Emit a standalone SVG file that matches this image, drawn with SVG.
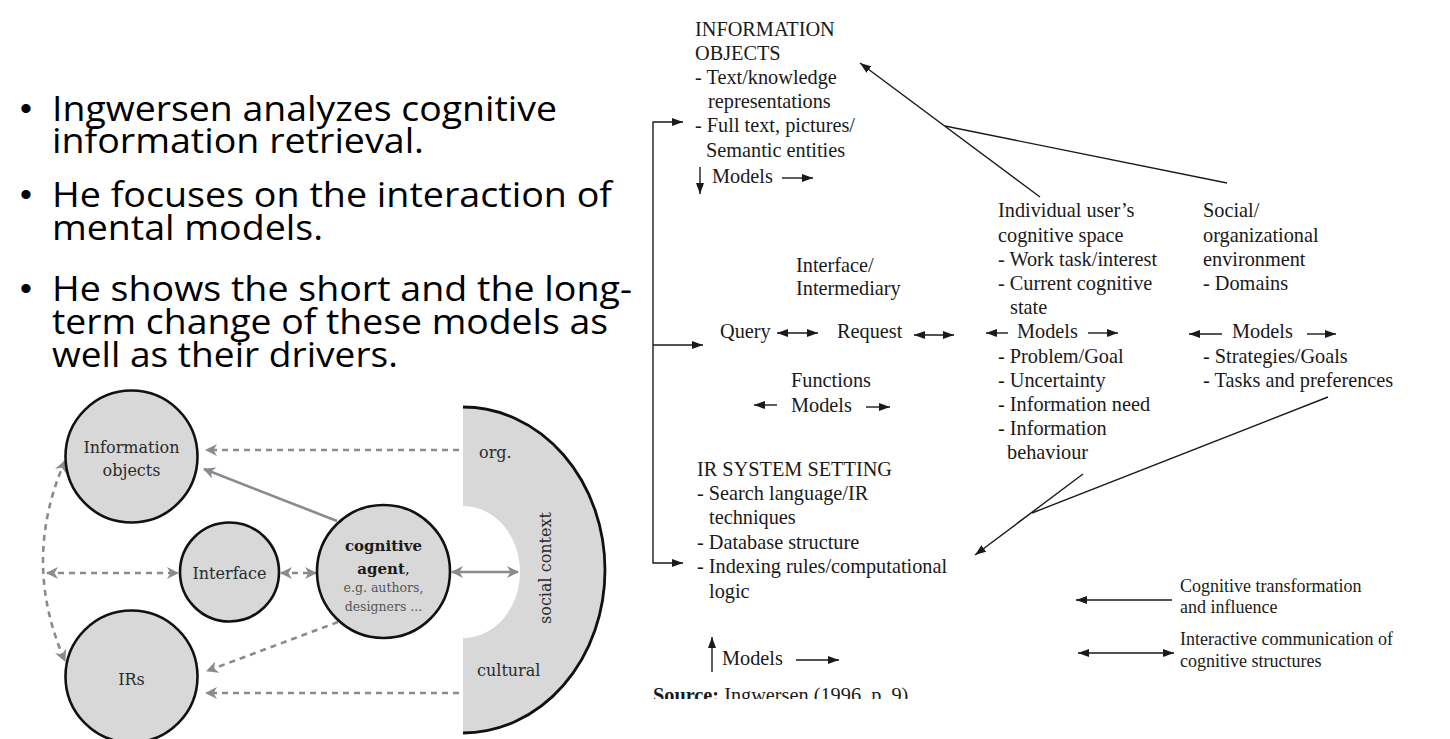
<svg xmlns="http://www.w3.org/2000/svg" width="1450" height="739" viewBox="0 0 1450 739">
  <defs>
    <style>
      .bul { font-family: "Open Sans", "Liberation Sans", sans-serif; font-size: 34px; fill: #000; }
      .dot { font-family: "Liberation Sans", Arial, sans-serif; font-size: 34px; fill: #000; }
      .tr { font-family: "Liberation Serif", "Times New Roman", serif; font-size: 20.3px; fill: #1a1a1a; }
      .lg { font-family: "Liberation Serif", "Times New Roman", serif; font-size: 18px; fill: #1a1a1a; }
      .ln { fill: none; stroke: #1a1a1a; stroke-width: 1.4; }
      .node { fill: #d8d8d8; stroke: #111; stroke-width: 2.6; }
      .lbl { font-family: "DejaVu Serif", "Liberation Serif", serif; font-size: 16px; fill: #2a2a2a; text-anchor: middle; }
      .lblb { font-family: "DejaVu Serif", "Liberation Serif", serif; font-size: 15px; font-weight: bold; fill: #1a1a1a; text-anchor: middle; }
      .lbls { font-family: "DejaVu Serif", "Liberation Serif", serif; font-size: 12.5px; fill: #555; text-anchor: middle; }
      .ctx { font-family: "DejaVu Serif", "Liberation Serif", serif; font-size: 16px; fill: #2a2a2a; }
      .dash { fill: none; stroke: #8a8a90; stroke-width: 2.6; stroke-dasharray: 6 5; }
      .solid { fill: none; stroke: #8a8a90; stroke-width: 2.6; }
    </style>
    <marker id="ah" viewBox="0 0 11 8" refX="11" refY="4" markerWidth="11" markerHeight="8" markerUnits="userSpaceOnUse" orient="auto-start-reverse">
      <path d="M0,0 L11,4 L0,8 z" fill="#1a1a1a"/>
    </marker>
    <marker id="gh" viewBox="0 0 12 12" refX="11" refY="6" markerWidth="12" markerHeight="12" markerUnits="userSpaceOnUse" orient="auto-start-reverse">
      <path d="M0,0 L12,6 L0,12 L3.5,6 z" fill="#8a8a90"/>
    </marker>
    <clipPath id="pageclip">
      <rect x="0" y="0" width="1450" height="699"/>
    </clipPath>
  </defs>

  <rect x="0" y="0" width="1450" height="739" fill="#ffffff"/>

  <!-- bullet list -->
  <g id="bullets">
    <text class="dot" x="20" y="120">•</text>
    <text class="bul" x="52" y="121" textLength="505" lengthAdjust="spacingAndGlyphs">Ingwersen analyzes cognitive</text>
    <text class="bul" x="52" y="153" textLength="372" lengthAdjust="spacingAndGlyphs">information retrieval.</text>
    <text class="dot" x="20" y="206">•</text>
    <text class="bul" x="52" y="207" textLength="560" lengthAdjust="spacingAndGlyphs">He focuses on the interaction of</text>
    <text class="bul" x="52" y="240" textLength="271" lengthAdjust="spacingAndGlyphs">mental models.</text>
    <text class="dot" x="20" y="300">•</text>
    <text class="bul" x="52" y="301" textLength="580" lengthAdjust="spacingAndGlyphs">He shows the short and the long-</text>
    <text class="bul" x="52" y="334" textLength="556" lengthAdjust="spacingAndGlyphs">term change of these models as</text>
    <text class="bul" x="52" y="367" textLength="346" lengthAdjust="spacingAndGlyphs">well as their drivers.</text>
  </g>

  <!-- social context half-disc -->
  <g id="social-context">
    <path d="M463,407 A142,163 0 0 1 463,733 L463,638 A57,66 0 0 0 463,506 Z" fill="#d8d8d8"/>
    <path d="M463,407 A142,163 0 0 1 463,733" fill="none" stroke="#111" stroke-width="2.8"/>
    <text class="ctx" x="479" y="458">org.</text>
    <text class="ctx" x="477" y="676">cultural</text>
    <text class="ctx" x="0" y="0" transform="translate(551,568) rotate(-90)" text-anchor="middle">social context</text>
  </g>

  <!-- connectors of the left model -->
  <g id="model-connectors">
    <line class="dash" x1="459" y1="450" x2="206" y2="450" marker-end="url(#gh)"/>
    <line class="dash" x1="459" y1="693" x2="206" y2="693" marker-end="url(#gh)"/>
    <line class="solid" x1="337" y1="521" x2="204" y2="469" marker-end="url(#gh)"/>
    <line class="dash" x1="338" y1="622" x2="207" y2="671" marker-end="url(#gh)"/>
    <line class="dash" x1="47" y1="573" x2="178" y2="573" marker-start="url(#gh)" marker-end="url(#gh)"/>
    <line class="dash" x1="281" y1="573" x2="316" y2="573" marker-start="url(#gh)" marker-end="url(#gh)"/>
    <line class="solid" x1="452" y1="572" x2="518" y2="572" marker-start="url(#gh)" marker-end="url(#gh)"/>
    <path class="dash" d="M65,461 Q21,561 65,661" marker-start="url(#gh)" marker-end="url(#gh)"/>
  </g>

  <g id="information-objects">
    <circle class="node" cx="131.5" cy="456.5" r="66"/>
    <text class="lbl" x="131.5" y="452.5">Information</text>
    <text class="lbl" x="131.5" y="476">objects</text>
  </g>
  <g id="interface">
    <circle class="node" cx="229.5" cy="572" r="49.5"/>
    <text class="lbl" x="229.5" y="579">Interface</text>
  </g>
  <g id="irs">
    <circle class="node" cx="131.5" cy="676.5" r="66"/>
    <text class="lbl" x="131.5" y="685">IRs</text>
  </g>
  <g id="cognitive-agent">
    <circle class="node" cx="383.5" cy="571.5" r="66.5"/>
    <text class="lblb" x="383.5" y="551">cognitive</text>
    <text class="lblb" x="383.5" y="574">agent<tspan font-weight="normal">,</tspan></text>
    <text class="lbls" x="383.5" y="592">e.g. authors,</text>
    <text class="lbls" x="383.5" y="611">designers ...</text>
  </g>

  <!-- cognitive framework: text blocks -->
  <g id="information-objects-block" class="tr">
    <text x="695" y="36">INFORMATION</text>
    <text x="695" y="60">OBJECTS</text>
    <text x="695" y="84">- Text/knowledge</text>
    <text x="708" y="108">representations</text>
    <text x="695" y="132">- Full text, pictures/</text>
    <text x="706" y="157">Semantic entities</text>
    <text x="712" y="183">Models</text>
  </g>
  <g id="interface-block" class="tr">
    <text x="796" y="272">Interface/</text>
    <text x="796" y="295">Intermediary</text>
    <text x="720" y="338">Query</text>
    <text x="837" y="338">Request</text>
    <text x="791" y="387">Functions</text>
    <text x="791" y="412">Models</text>
  </g>
  <g id="user-block" class="tr">
    <text x="998" y="217">Individual user’s</text>
    <text x="998" y="242">cognitive space</text>
    <text x="998" y="266">- Work task/interest</text>
    <text x="998" y="290">- Current cognitive</text>
    <text x="1010" y="314">state</text>
    <text x="1017" y="338">Models</text>
    <text x="998" y="363">- Problem/Goal</text>
    <text x="998" y="387">- Uncertainty</text>
    <text x="998" y="411">- Information need</text>
    <text x="998" y="435">- Information</text>
    <text x="1007" y="459">behaviour</text>
  </g>
  <g id="social-block" class="tr">
    <text x="1203" y="217">Social/</text>
    <text x="1203" y="242">organizational</text>
    <text x="1203" y="266">environment</text>
    <text x="1203" y="290">- Domains</text>
    <text x="1232" y="338">Models</text>
    <text x="1203" y="363">- Strategies/Goals</text>
    <text x="1203" y="387">- Tasks and preferences</text>
  </g>
  <g id="ir-system-block" class="tr">
    <text x="697" y="476">IR SYSTEM SETTING</text>
    <text x="697" y="500">- Search language/IR</text>
    <text x="709" y="524">techniques</text>
    <text x="697" y="549">- Database structure</text>
    <text x="697" y="573">- Indexing rules/computational</text>
    <text x="709" y="598">logic</text>
    <text x="722" y="665">Models</text>
  </g>
  <g id="legend" class="lg">
    <text x="1180" y="592">Cognitive transformation</text>
    <text x="1180" y="613">and influence</text>
    <text x="1180" y="645">Interactive communication of</text>
    <text x="1180" y="667">cognitive structures</text>
  </g>
  <g id="source" clip-path="url(#pageclip)">
    <text class="tr" x="653" y="702"><tspan font-weight="bold">Source:</tspan> Ingwersen (1996, p. 9)</text>
  </g>

  <!-- cognitive framework: connectors -->
  <g id="framework-connectors" class="ln">
    <polyline points="683,122 653,122 653,563 683,563" marker-start="url(#ah)" marker-end="url(#ah)"/>
    <line x1="653" y1="345" x2="703" y2="345" marker-end="url(#ah)"/>
    <line x1="700" y1="167" x2="700" y2="194" marker-end="url(#ah)"/>
    <line x1="782" y1="178" x2="813" y2="178" marker-end="url(#ah)"/>
    <line x1="1040" y1="197" x2="860" y2="63" marker-end="url(#ah)"/>
    <line x1="945" y1="126" x2="1227" y2="183"/>
    <line x1="1083" y1="474" x2="975" y2="555" marker-end="url(#ah)"/>
    <line x1="1328" y1="397" x2="1032" y2="513"/>
    <line x1="777" y1="333" x2="818" y2="333" marker-start="url(#ah)" marker-end="url(#ah)"/>
    <line x1="914" y1="335" x2="954" y2="335" marker-start="url(#ah)" marker-end="url(#ah)"/>
    <line x1="1008" y1="333" x2="986" y2="333" marker-end="url(#ah)"/>
    <line x1="1088" y1="333" x2="1118" y2="333" marker-end="url(#ah)"/>
    <line x1="1222" y1="334" x2="1189" y2="334" marker-end="url(#ah)"/>
    <line x1="1307" y1="334" x2="1336" y2="334" marker-end="url(#ah)"/>
    <line x1="777" y1="405" x2="754" y2="405" marker-end="url(#ah)"/>
    <line x1="866" y1="407" x2="890" y2="407" marker-end="url(#ah)"/>
    <line x1="712" y1="672" x2="712" y2="637" marker-end="url(#ah)"/>
    <line x1="796" y1="660" x2="839" y2="660" marker-end="url(#ah)"/>
    <line x1="1172" y1="600" x2="1076" y2="600" marker-end="url(#ah)"/>
    <line x1="1078" y1="653" x2="1174" y2="653" marker-start="url(#ah)" marker-end="url(#ah)"/>
  </g>
</svg>
